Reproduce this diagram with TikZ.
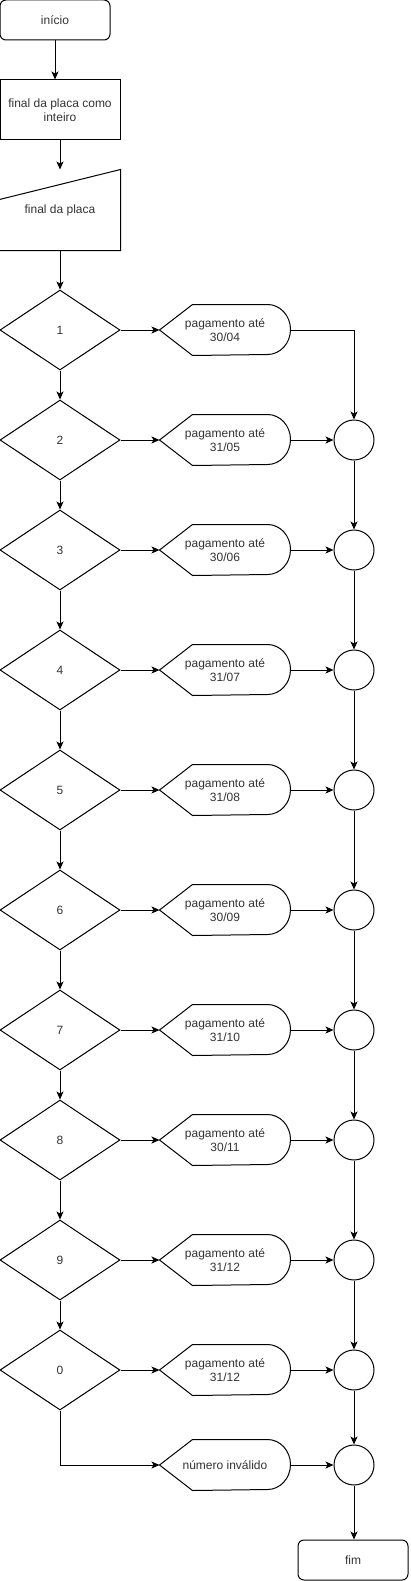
\documentclass[tikz,border=0pt]{standalone}
\usepackage{fontspec}
\setmainfont{Liberation Sans}
\usepackage{xcolor}
\usetikzlibrary{shapes.geometric, arrows.meta}

% outline of the "display" shape around a named node
\newcommand{\dispoutline}[1]{%
	\draw (#1.west) -- ([xshift=33pt]#1.north west) -- ([xshift=-23pt]#1.north east)
		arc[start angle=90, end angle=-90, x radius=23pt, y radius=25pt]
		-- ([xshift=33pt]#1.south west) -- cycle;}
% outline of the manual input shape
\newcommand{\inputoutline}[1]{%
	\draw ([yshift=-30pt]#1.north west) -- (#1.north east) -- (#1.south east) -- (#1.south west) -- cycle;}

\begin{document}
\begin{tikzpicture}[x=1pt, y=1pt, line width=1pt,
		every node/.style={font=\fontsize{12}{14.5}\selectfont, text=black!80, inner sep=0pt},
		term/.style={draw, rounded corners=6pt, minimum width=110pt, minimum height=40pt},
		proc/.style={draw, minimum width=120pt, minimum height=60pt, align=center},
		inbox/.style={minimum width=120pt, minimum height=80pt},
		test/.style={draw, diamond, minimum width=120pt, minimum height=80pt},
		disp/.style={minimum width=130pt, minimum height=50pt, align=center},
		junction/.style={draw, circle, minimum size=40pt},
		flow/.style={-{Stealth[length=8pt, width=7pt, inset=2pt]}}]
		\useasboundingbox (0,0) rectangle (410,-1581);

		\node[term] (start) at (55,-20) {início};
		\node[proc] (conv) at (60,-110) {final da placa como\\inteiro};
		\node[inbox] (read) at (60,-210) {final da placa};
		\inputoutline{read}

		% tests on the last digit
		\node[test] (d1) at (60,-330) {1};
		\node[test] (d2) at (60,-440) {2};
		\node[test] (d3) at (60,-550) {3};
		\node[test] (d4) at (60,-670) {4};
		\node[test] (d5) at (60,-790) {5};
		\node[test] (d6) at (60,-910) {6};
		\node[test] (d7) at (60,-1030) {7};
		\node[test] (d8) at (60,-1140) {8};
		\node[test] (d9) at (60,-1260) {9};
		\node[test] (d0) at (60,-1370) {0};

		% outputs
		\node[disp] (p1) at (225,-330) {pagamento até\\30/04};
		\node[disp] (p2) at (225,-440) {pagamento até\\31/05};
		\node[disp] (p3) at (225,-550) {pagamento até\\30/06};
		\node[disp] (p4) at (225,-670) {pagamento até\\31/07};
		\node[disp] (p5) at (225,-790) {pagamento até\\31/08};
		\node[disp] (p6) at (225,-910) {pagamento até\\30/09};
		\node[disp] (p7) at (225,-1030) {pagamento até\\31/10};
		\node[disp] (p8) at (225,-1140) {pagamento até\\30/11};
		\node[disp] (p9) at (225,-1260) {pagamento até\\31/12};
		\node[disp] (p0) at (225,-1370) {pagamento até\\31/12};
		\node[disp] (pinv) at (225,-1465) {número inválido};
		\dispoutline{p1} \dispoutline{p2} \dispoutline{p3} \dispoutline{p4}
		\dispoutline{p5} \dispoutline{p6} \dispoutline{p7} \dispoutline{p8}
		\dispoutline{p9} \dispoutline{p0} \dispoutline{pinv}

		% junctions
		\node[junction] (c2) at (354,-440) {};
		\node[junction] (c3) at (354,-550) {};
		\node[junction] (c4) at (354,-670) {};
		\node[junction] (c5) at (354,-790) {};
		\node[junction] (c6) at (354,-910) {};
		\node[junction] (c7) at (354,-1030) {};
		\node[junction] (c8) at (354,-1140) {};
		\node[junction] (c9) at (354,-1260) {};
		\node[junction] (c0) at (354,-1370) {};
		\node[junction] (cinv) at (354,-1465) {};

		\node[term] (stop) at (353,-1560) {fim};

		% flow down the left
		\draw[flow] (start.south) -- (start.south |- conv.north);
		\draw[flow] (conv.south) -- (read.north);
		\draw[flow] (read.south) -- (d1.north);
		\draw[flow] (d1.south) -- (d2.north);
		\draw[flow] (d2.south) -- (d3.north);
		\draw[flow] (d3.south) -- (d4.north);
		\draw[flow] (d4.south) -- (d5.north);
		\draw[flow] (d5.south) -- (d6.north);
		\draw[flow] (d6.south) -- (d7.north);
		\draw[flow] (d7.south) -- (d8.north);
		\draw[flow] (d8.south) -- (d9.north);
		\draw[flow] (d9.south) -- (d0.north);
		\draw[flow] (d0.south) |- (pinv.west);

		% tests to outputs
		\draw[flow] (d1.east) -- (p1.west);
		\draw[flow] (d2.east) -- (p2.west);
		\draw[flow] (d3.east) -- (p3.west);
		\draw[flow] (d4.east) -- (p4.west);
		\draw[flow] (d5.east) -- (p5.west);
		\draw[flow] (d6.east) -- (p6.west);
		\draw[flow] (d7.east) -- (p7.west);
		\draw[flow] (d8.east) -- (p8.west);
		\draw[flow] (d9.east) -- (p9.west);
		\draw[flow] (d0.east) -- (p0.west);

		% outputs to junctions
		\draw[flow] (p1.east) -| (c2.north);
		\draw[flow] (p2.east) -- (c2.west);
		\draw[flow] (p3.east) -- (c3.west);
		\draw[flow] (p4.east) -- (c4.west);
		\draw[flow] (p5.east) -- (c5.west);
		\draw[flow] (p6.east) -- (c6.west);
		\draw[flow] (p7.east) -- (c7.west);
		\draw[flow] (p8.east) -- (c8.west);
		\draw[flow] (p9.east) -- (c9.west);
		\draw[flow] (p0.east) -- (c0.west);
		\draw[flow] (pinv.east) -- (cinv.west);

		% down the right
		\draw[flow] (c2.south) -- (c3.north);
		\draw[flow] (c3.south) -- (c4.north);
		\draw[flow] (c4.south) -- (c5.north);
		\draw[flow] (c5.south) -- (c6.north);
		\draw[flow] (c6.south) -- (c7.north);
		\draw[flow] (c7.south) -- (c8.north);
		\draw[flow] (c8.south) -- (c9.north);
		\draw[flow] (c9.south) -- (c0.north);
		\draw[flow] (c0.south) -- (cinv.north);
		\draw[flow] (cinv.south) -- (cinv.south |- stop.north);
	\end{tikzpicture}
\end{document}
